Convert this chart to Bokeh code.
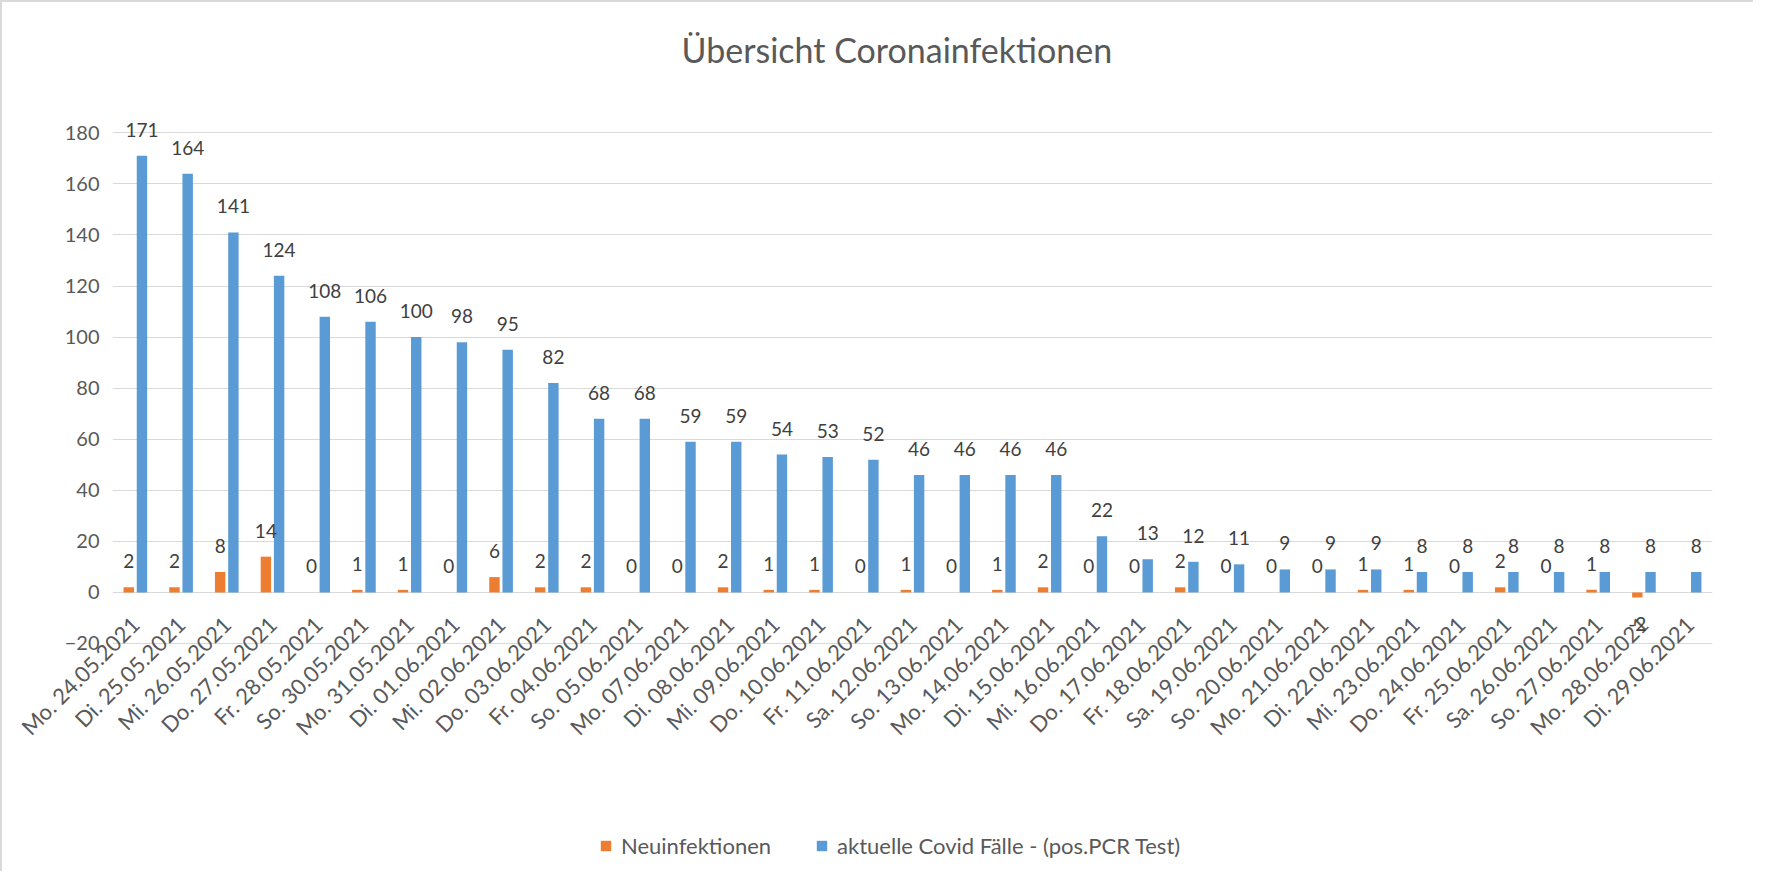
import math
from bokeh.plotting import figure
from bokeh.core.properties import value
from bokeh.models import (ColumnDataSource, FactorRange, FixedTicker, LabelSet,
                          Legend, LegendItem, Range1d)
from bokeh.transform import dodge
from bokeh.embed import file_html
from bokeh.resources import INLINE

title_text = "Übersicht Coronainfektionen"

dates = [
    "Mo. 24.05.2021", "Di. 25.05.2021", "Mi. 26.05.2021", "Do. 27.05.2021",
    "Fr. 28.05.2021", "So. 30.05.2021", "Mo. 31.05.2021", "Di. 01.06.2021",
    "Mi. 02.06.2021", "Do. 03.06.2021", "Fr. 04.06.2021", "So. 05.06.2021",
    "Mo. 07.06.2021", "Di. 08.06.2021", "Mi. 09.06.2021", "Do. 10.06.2021",
    "Fr. 11.06.2021", "Sa. 12.06.2021", "So. 13.06.2021", "Mo. 14.06.2021",
    "Di. 15.06.2021", "Mi. 16.06.2021", "Do. 17.06.2021", "Fr. 18.06.2021",
    "Sa. 19.06.2021", "So. 20.06.2021", "Mo. 21.06.2021", "Di. 22.06.2021",
    "Mi. 23.06.2021", "Do. 24.06.2021", "Fr. 25.06.2021", "Sa. 26.06.2021",
    "So. 27.06.2021", "Mo. 28.06.2021", "Di. 29.06.2021",
]

neuinfektionen = [2, 2, 8, 14, 0, 1, 1, 0, 6, 2, 2, 0, 0, 2, 1, 1, 0, 1, 0, 1,
                  2, 0, 0, 2, 0, 0, 0, 1, 1, 0, 2, 0, 1, -2, None]

aktuelle_faelle = [171, 164, 141, 124, 108, 106, 100, 98, 95, 82, 68, 68, 59, 59,
                   54, 53, 52, 46, 46, 46, 46, 22, 13, 12, 11, 9, 9, 9, 8, 8, 8,
                   8, 8, 8, 8]

y_ticks = [-20, 0, 20, 40, 60, 80, 100, 120, 140, 160, 180]

series_names = ["Neuinfektionen", "aktuelle Covid Fälle - (pos.PCR Test)"]

ORANGE = "#ED7D31"
BLUE = "#5B9BD5"
GRID = "#D9D9D9"
AXIS_TXT = "#595959"
LABEL_TXT = "#404040"
FONT = "Lato"

nan = float("nan")
src = ColumnDataSource(dict(
    cat=dates,
    neu=[nan if v is None else v for v in neuinfektionen],
    akt=aktuelle_faelle,
))

# the plot frame reaches down to the legend row; only the -20..180 ticks
# get grid lines, so the lower part stays blank for the labels and legend
p = figure(
    x_range=FactorRange(*dates),
    y_range=Range1d(-104.6, 195),
    frame_width=1600, frame_height=765,
    min_border_left=110, min_border_right=41,
    min_border_top=83, min_border_bottom=12,
    output_backend="svg", toolbar_location=None,
    title=title_text,
)
p.styles = {"border-top": "2px solid #D9D9D9", "border-left": "2px solid #D9D9D9"}
p.background_fill_color = "white"
p.border_fill_color = "white"
p.outline_line_color = None

p.title.text_font = FONT
p.title.text_font_size = "34px"
p.title.text_font_style = "normal"
p.title.text_color = AXIS_TXT
p.title.align = "left"
p.title.offset = 569
p.title.standoff = 49

OFF = 0.1445
W = 0.228
r_neu = p.vbar(x=dodge("cat", -OFF, range=p.x_range), top="neu", bottom=0,
               width=W, source=src, fill_color=ORANGE, line_color=None)
r_akt = p.vbar(x=dodge("cat", OFF, range=p.x_range), top="akt", bottom=0,
               width=W, source=src, fill_color=BLUE, line_color=None)

# data labels
lab_neu = [(c, v) for c, v in zip(dates, neuinfektionen) if v is not None]
src_ln = ColumnDataSource(dict(
    cat=[c for c, _ in lab_neu],
    val=[v for _, v in lab_neu],
    txt=[str(v) for _, v in lab_neu],
    off=[26 if v >= 0 else -26 for _, v in lab_neu],
))
src_la = ColumnDataSource(dict(
    cat=dates, val=aktuelle_faelle, txt=[str(v) for v in aktuelle_faelle],
    off=[26 if v >= 0 else -26 for v in aktuelle_faelle],
))
for s, o in ((src_ln, -OFF), (src_la, OFF)):
    p.add_layout(LabelSet(
        x=dodge("cat", o, range=p.x_range), y="val", text="txt", y_offset="off",
        source=s, text_align="center", text_baseline="middle",
        text_font=value(FONT), text_font_size=value("19px"),
        text_color=LABEL_TXT,
    ))

# grid + axes
p.xgrid.visible = False
p.ygrid.ticker = FixedTicker(ticks=y_ticks)
p.ygrid.grid_line_color = GRID
p.ygrid.grid_line_width = 1

p.yaxis.ticker = FixedTicker(ticks=y_ticks)
p.yaxis.axis_line_color = None
p.yaxis.major_tick_line_color = None
p.yaxis.minor_tick_line_color = None
p.yaxis.major_tick_out = 0
p.yaxis.major_tick_in = 0
p.yaxis.major_label_standoff = 13
p.yaxis.major_label_text_font = FONT
p.yaxis.major_label_text_font_size = "20px"
p.yaxis.major_label_text_color = AXIS_TXT

# category labels are lifted from the bottom of the frame up to just
# below the zero line
p.xaxis.axis_line_color = None
p.xaxis.major_tick_line_color = None
p.xaxis.minor_tick_line_color = None
p.xaxis.major_tick_out = 0
p.xaxis.major_tick_in = 0
p.xaxis.major_label_orientation = math.pi / 4
p.xaxis.major_label_standoff = -239
p.xaxis.major_label_text_font = FONT
p.xaxis.major_label_text_font_size = "22px"
p.xaxis.major_label_text_color = AXIS_TXT

legend = Legend(
    items=[LegendItem(label=series_names[0], renderers=[r_neu]),
           LegendItem(label=series_names[1], renderers=[r_akt])],
    orientation="horizontal", location=(487, 0),
    glyph_width=13, glyph_height=13, label_standoff=9, spacing=44,
    padding=0, margin=0, border_line_color=None, background_fill_alpha=0,
    label_text_font=FONT, label_text_font_size="22px", label_text_color=AXIS_TXT,
)
p.add_layout(legend)

open("out.html", "w").write(file_html(p, INLINE))
